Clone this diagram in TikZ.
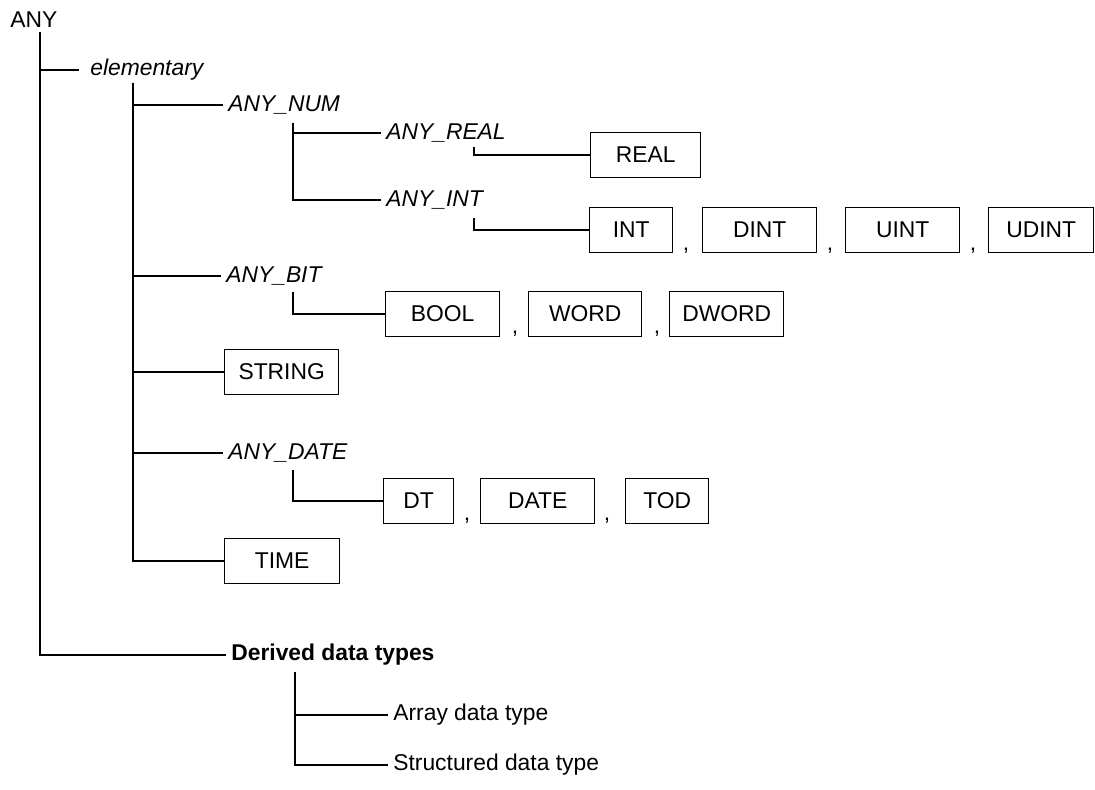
\documentclass[tikz,border=0pt]{standalone}
\usepackage{fontspec}
\setmainfont{Liberation Sans}
\usetikzlibrary{positioning}
\tikzstyle{conn} = [line width=0.8pt]

\begin{document}
\begin{tikzpicture}[x=0.02cm, y=-0.02cm,
    lbl/.style={anchor=west, inner xsep=0.1cm, inner ysep=0.05cm,
        font=\fontsize{13}{15}\selectfont},
    abst/.style={lbl, font=\fontsize{13}{15}\selectfont\itshape},
    tbox/.style={draw, line width=0.8pt, anchor=west, inner sep=0pt,
        minimum height=0.91cm, font=\fontsize{13}{15}\selectfont},
    sep/.style={anchor=base, inner sep=0pt, font=\fontsize{13}{15}\selectfont}]
    \useasboundingbox (0,0) rectangle (1095,790);

    % labels of the tree
    \node[lbl] (any) at (5,20) {ANY};
    \node[abst] (elem) at (85,70) {elementary};
    \node[abst] (anynum) at (223,105) {ANY\_NUM};
    \node[abst] (anyreal) at (381,133) {ANY\_REAL};
    \node[abst] (anyint) at (381,200) {ANY\_INT};
    \node[abst] (anybit) at (221,276) {ANY\_BIT};
    \node[abst] (anydate) at (223,453) {ANY\_DATE};
    \node[lbl, font=\fontsize{13}{15}\selectfont\bfseries] (derived) at (226,655) {Derived data types};
    \node[lbl] (array) at (388,715) {Array data type};
    \node[lbl] (struct) at (388,765) {Structured data type};

    % elementary data types
    \node[tbox, minimum width=2.2cm] (real) at (590,155) {REAL};
    \node[tbox, minimum width=1.66cm] (int) at (589,230) {INT};
    \node[sep] (c1) at (686,251) {,};
    \node[tbox, minimum width=2.28cm] (dint) at (702,230) {DINT};
    \node[sep] (c2) at (830,251) {,};
    \node[tbox, minimum width=2.28cm] (uint) at (845,230) {UINT};
    \node[sep] (c3) at (973,251) {,};
    \node[tbox, minimum width=2.1cm] (udint) at (988,230) {UDINT};

    \node[tbox, minimum width=2.28cm] (bool) at (385,314) {BOOL};
    \node[sep] (c4) at (515,334) {,};
    \node[tbox, minimum width=2.26cm] (word) at (528,314) {WORD};
    \node[sep] (c5) at (657,334) {,};
    \node[tbox, minimum width=2.28cm] (dword) at (669,314) {DWORD};

    \node[tbox, minimum width=2.28cm] (string) at (224,372) {STRING};

    \node[tbox, minimum width=1.4cm] (dt) at (383,501) {DT};
    \node[sep] (c6) at (467,520) {,};
    \node[tbox, minimum width=2.28cm] (date) at (480,501) {DATE};
    \node[sep] (c7) at (607,520) {,};
    \node[tbox, minimum width=1.66cm] (tod) at (625,501) {TOD};

    \node[tbox, minimum width=2.3cm] (time) at (224,561) {TIME};

    % forks
    \coordinate (anyfork) at (40,32);
    \coordinate (elemfork) at (133,83);
    \coordinate (numfork) at (293,123);
    \coordinate (realfork) at (474,147);
    \coordinate (intfork) at (474,218);
    \coordinate (bitfork) at (293,292);
    \coordinate (datefork) at (293,470);
    \coordinate (derfork) at (295,672);

    \draw[conn] (anyfork) |- ([xshift=-0.12cm]elem.west);
    \draw[conn] (anyfork) |- (derived.west);

    \draw[conn] (elemfork) |- (anynum.west);
    \draw[conn] (elemfork) |- (anybit.west);
    \draw[conn] (elemfork) |- (string.west);
    \draw[conn] (elemfork) |- (anydate.west);
    \draw[conn] (elemfork) |- (time.west);

    \draw[conn] (numfork) |- (anyreal.west);
    \draw[conn] (numfork) |- (anyint.west);
    \draw[conn] (realfork) |- (real.west);
    \draw[conn] (intfork) |- (int.west);
    \draw[conn] (bitfork) |- (bool.west);
    \draw[conn] (datefork) |- (dt.west);

    \draw[conn] (derfork) |- (array.west);
    \draw[conn] (derfork) |- (struct.west);
\end{tikzpicture}
\end{document}
